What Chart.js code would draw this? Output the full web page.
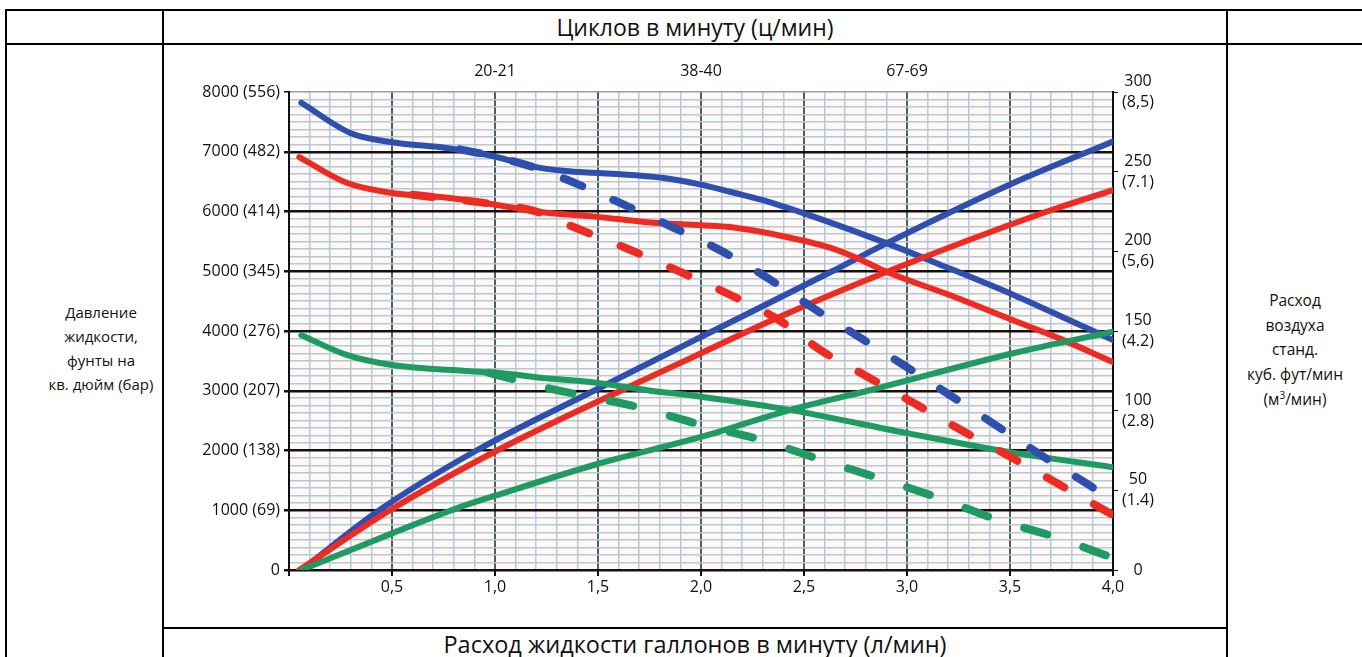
<!DOCTYPE html>
<html>
<head>
<meta charset="utf-8">
<script src="https://cdn.jsdelivr.net/npm/chart.js@4.4.1/dist/chart.umd.min.js"></script>
<style>
  html, body { margin: 0; padding: 0; background: #fff; }
  body { width: 1362px; height: 657px; overflow: hidden; position: relative; font-family: "Open Sans", sans-serif; color: #111; }
  .ln { position: absolute; background: #000; }
  .txt { position: absolute; text-align: center; white-space: nowrap; }
  #chartBox { position: absolute; left: 165px; top: 46px; width: 1060px; height: 580px; }
</style>
</head>
<body>
<!-- table frame -->
<div class="ln" style="left:5px; top:9px; width:1357px; height:2px"></div>
<div class="ln" style="left:5px; top:43px; width:1357px; height:2px"></div>
<div class="ln" style="left:162px; top:627px; width:1066px; height:2px"></div>
<div class="ln" style="left:5px; top:9px; width:2px; height:648px"></div>
<div class="ln" style="left:162px; top:9px; width:2px; height:648px"></div>
<div class="ln" style="left:1226px; top:9px; width:2px; height:648px"></div>

<div class="txt" style="left:164px; width:1062px; top:12px; font-size:23px; line-height:30px">Циклов в минуту (ц/мин)</div>
<div class="txt" style="left:164px; width:1062px; top:629px; font-size:23.5px; line-height:30px">Расход жидкости галлонов в минуту (л/мин)</div>
<div class="txt" style="left:40px; width:122px; top:300px; font-size:15px; line-height:24px">Давление<br>жидкости,<br>фунты на<br>кв. дюйм (бар)</div>
<div class="txt" style="left:1228px; width:134px; top:288px; font-size:15.5px; line-height:24.7px">Расход<br>воздуха<br>станд.<br>куб. фут/мин<br>(м<sup style="font-size:10px; line-height:0">3</sup>/мин)</div>

<div id="chartBox"><canvas id="pumpChart"></canvas></div>

<script>
// flow, gpm (x) and fluid pressure, psi (left axis)
const bluePressX = [0.06, 0.3, 0.5, 0.77, 0.96, 1.22, 1.41, 1.57, 1.82, 2.0, 2.14, 2.32, 2.55, 2.9, 3.19, 3.52, 3.84, 4.0];
const bluePressY = [7820, 7310, 7160, 7060, 6950, 6730, 6660, 6630, 6560, 6450, 6330, 6170, 5910, 5470, 5070, 4600, 4100, 3850];
const redPressX = [0.05, 0.28, 0.5, 0.77, 1.01, 1.22, 1.5, 1.74, 2.0, 2.14, 2.38, 2.63, 2.77, 2.9, 3.2, 3.5, 3.75, 4.0];
const redPressY = [6910, 6480, 6310, 6230, 6110, 5990, 5910, 5820, 5770, 5740, 5600, 5390, 5200, 4990, 4610, 4200, 3860, 3480];
const greenPressX = [0.06, 0.28, 0.5, 0.77, 1.01, 1.25, 1.5, 1.74, 2.0, 2.43, 3.0, 3.52, 4.0];
const greenPressY = [3930, 3600, 3430, 3350, 3300, 3210, 3130, 3010, 2900, 2680, 2290, 1960, 1720];

// dashed pressure curves
const blueDashX = [0.83, 0.96, 1.17, 1.35, 1.61, 1.86, 2.11, 2.34, 2.56, 2.79, 3.02, 3.26, 3.49, 3.71, 3.94, 4.0];
const blueDashY = [7040, 6950, 6760, 6530, 6140, 5740, 5320, 4850, 4350, 3850, 3350, 2810, 2290, 1790, 1290, 1120];
const redDashX = [0.6, 1.0, 1.2, 1.36, 1.62, 1.86, 2.12, 2.38, 2.58, 2.81, 3.05, 3.29, 3.53, 3.77, 4.0];
const redDashY = [6280, 6120, 6000, 5770, 5410, 5050, 4640, 4180, 3680, 3230, 2760, 2290, 1840, 1370, 920];
const greenDashX = [0.97, 1.25, 1.69, 2.0, 2.29, 2.56, 2.86, 3.15, 3.44, 3.73, 4.0];
const greenDashY = [3300, 3050, 2730, 2430, 2180, 1870, 1540, 1210, 840, 540, 200];

// air consumption, scfm (right axis)
const blueAirX = [0.06, 0.44, 0.91, 1.48, 1.98, 2.63, 2.9, 3.5, 4.0];
const blueAirY = [0, 37.7, 75, 112.5, 145, 187, 205, 242, 269];
const redAirX = [0.05, 0.49, 1.01, 1.61, 2.0, 2.35, 2.9, 3.68, 4.0];
const redAirY = [0, 37.5, 75, 112.5, 136, 157, 187, 225, 238.5];
const greenAirX = [0.06, 0.5, 0.82, 1.01, 1.51, 2.0, 2.43, 2.81, 3.52, 4.0];
const greenAirY = [0, 23, 39, 47, 67, 83.5, 100.4, 112.5, 136.2, 149.6];

// tick labels
const pressLabels = { 0: '0', 1000: '1000 (69)', 2000: '2000 (138)', 3000: '3000 (207)', 4000: '4000 (276)',
                      5000: '5000 (345)', 6000: '6000 (414)', 7000: '7000 (482)', 8000: '8000 (556)' };
const airLabels = { 0: ['0'], 50: ['50', '(1.4)'], 100: ['100', '(2.8)'], 150: ['150', '(4.2)'],
                    200: ['200', '(5,6)'], 250: ['250', '(7.1)'], 300: ['300', '(8,5)'] };
const cycleTicks = [1, 2, 3];
const cycleLabels = ['20-21', '38-40', '67-69'];

const BLUE = '#2f4fae', RED = '#ee2b22', GREEN = '#1f9a62';
const MINOR = '#b6c9d3';

function pts(xs, ys) {
    return xs.map((x, i) => ({ x: x, y: ys[i] }));
}
function isHalf(v) { return Math.abs(v * 2 - Math.round(v * 2)) < 1e-6; }

function solid(data, color, axis) {
    return { data: data, borderColor: color, borderWidth: 6, yAxisID: axis, xAxisID: 'x',
             pointRadius: 0, cubicInterpolationMode: 'monotone', borderCapStyle: 'round', borderJoinStyle: 'round' };
}
function dashed(data, color, dash) {
    return { data: data, borderColor: color, borderWidth: 8, yAxisID: 'y', xAxisID: 'x',
             pointRadius: 0, cubicInterpolationMode: 'monotone', borderCapStyle: 'round', borderDash: dash };
}

const paperBg = {
    id: 'paperBg',
    beforeDraw(chart) {
        const { ctx, chartArea: a } = chart;
        ctx.save();
        ctx.fillStyle = '#fef8f6';
        ctx.fillRect(a.left, a.top, a.right - a.left, a.bottom - a.top);
        ctx.restore();
    }
};

const tickFont = { family: '"Open Sans", sans-serif', size: 16 };

new Chart(document.getElementById('pumpChart'), {
    type: 'line',
    data: {
        datasets: [
            dashed(pts(blueDashX, blueDashY), BLUE, [20, 34]),
            dashed(pts(redDashX, redDashY), RED, [20, 34]),
            dashed(pts(greenDashX, greenDashY), GREEN, [24, 38]),
            solid(pts(greenPressX, greenPressY), GREEN, 'y'),
            solid(pts(greenAirX, greenAirY), GREEN, 'y2'),
            solid(pts(redPressX, redPressY), RED, 'y'),
            solid(pts(redAirX, redAirY), RED, 'y2'),
            solid(pts(bluePressX, bluePressY), BLUE, 'y'),
            solid(pts(blueAirX, blueAirY), BLUE, 'y2')
        ]
    },
    options: {
        responsive: true,
        maintainAspectRatio: false,
        animation: false,
        layout: { padding: 0 },
        plugins: { legend: { display: false }, tooltip: { enabled: false } },
        scales: {
            x: {
                type: 'linear', position: 'bottom', min: 0, max: 4,
                afterFit: s => { s.height = 56; },
                ticks: {
                    stepSize: 0.1, autoSkip: false, maxRotation: 0, padding: 2,
                    color: '#111', font: tickFont,
                    callback: v => (v > 0 && isHalf(v)) ? v.toFixed(1).replace('.', ',') : ''
                },
                grid: {
                    color: c => isHalf(c.tick.value) ? '#4f5f66' : MINOR,
                    lineWidth: c => isHalf(c.tick.value) ? 2 : 1.5,
                    tickColor: c => isHalf(c.tick.value) ? '#111' : 'rgba(0,0,0,0)',
                    tickLength: 6
                },
                border: { display: true, color: '#111', width: 2 }
            },
            x2: {
                type: 'linear', position: 'top', min: 0, max: 4,
                afterFit: s => { s.height = 46; },
                afterBuildTicks: s => { s.ticks = cycleTicks.map(v => ({ value: v })); },
                ticks: {
                    autoSkip: false, maxRotation: 0, padding: 11, color: '#111', font: tickFont,
                    callback: (v, i) => cycleLabels[i]
                },
                grid: { display: false, drawTicks: false },
                border: { display: false }
            },
            y: {
                type: 'linear', position: 'left', min: 0, max: 8000,
                afterFit: s => { s.width = 124; },
                ticks: {
                    stepSize: 125, autoSkip: false, padding: 4, color: '#111', font: tickFont,
                    callback: v => pressLabels[v] || ''
                },
                grid: {
                    color: c => c.tick.value === 8000 ? '#8ea3ad' : (c.tick.value % 1000 === 0 ? '#111' : MINOR),
                    lineWidth: c => (c.tick.value % 1000 === 0 && c.tick.value !== 8000) ? 2.5 : 1.5,
                    tickColor: c => c.tick.value % 1000 === 0 ? '#111' : 'rgba(0,0,0,0)',
                    tickLength: 5
                },
                border: { display: true, color: '#111', width: 2 }
            },
            y2: {
                type: 'linear', position: 'right', min: 0, max: 300,
                afterFit: s => { s.width = 112; },
                ticks: {
                    stepSize: 50, autoSkip: false, padding: 4, crossAlign: 'center',
                    color: '#111', font: { family: '"Open Sans", sans-serif', size: 16, lineHeight: 1.3 },
                    callback: v => airLabels[v] || ''
                },
                grid: { drawOnChartArea: false, color: '#111', tickLength: 5 },
                border: { display: true, color: '#111', width: 2 }
            }
        }
    },
    plugins: [paperBg]
});
</script>
</body>
</html>
